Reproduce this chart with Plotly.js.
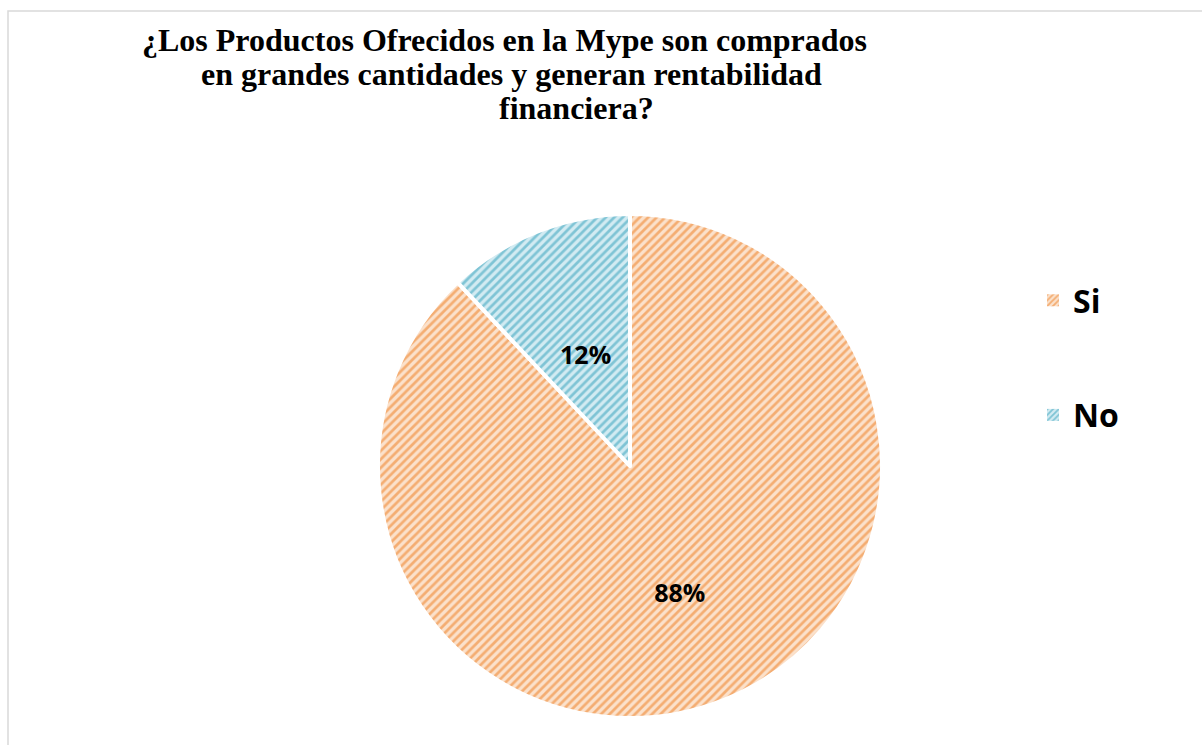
<!DOCTYPE html>
<html>
<head>
<meta charset="utf-8">
<script src="https://cdn.plot.ly/plotly-3.0.1.min.js"></script>
<style>html,body{margin:0;padding:0;background:#fff;}#chart{width:1202px;height:745px;}</style>
</head>
<body>
<div id="chart"></div>
<script>
const categories = ['Si', 'No'];
const values = [88, 12];
const titleLines = [
  '¿Los Productos Ofrecidos en la Mype son comprados',
  'en grandes cantidades y generan rentabilidad',
  'financiera?'
];
const bgColors = ['#fbe1cb', '#d2ebf2'];
const fgColors = ['#f4ad72', '#7fc4d5'];

const W = 1202, H = 745;
const px = x => x / W;
const py = y => 1 - y / H;

const cx = 630, cy = 466, r = 252;
const textRadii = [270, 165];
const pct = '%{percent:.0%}';

const traces = [{
  type: 'pie',
  labels: categories,
  values: values,
  sort: false,
  direction: 'clockwise',
  rotation: 0,
  showlegend: false,
  domain: {x: [px(cx - r), px(cx + r)], y: [py(cy + r), py(cy - r)]},
  textinfo: 'none',
  hoverinfo: 'none',
  marker: {
    colors: bgColors,
    line: {color: '#ffffff', width: 4},
    pattern: {shape: '/', fillmode: 'replace', bgcolor: bgColors, fgcolor: fgColors, size: 6, solidity: 0.45}
  }
}];

// transparent overlay pies that only carry the percentage labels
textRadii.forEach((rt, k) => {
  traces.push({
    type: 'pie',
    labels: categories,
    values: values,
    sort: false,
    direction: 'clockwise',
    rotation: 0,
    showlegend: false,
    domain: {x: [px(cx - rt), px(cx + rt)], y: [py(cy + rt), py(cy - rt)]},
    texttemplate: categories.map((c, i) => i === k ? pct : ''),
    textposition: 'inside',
    insidetextorientation: 'horizontal',
    textfont: {family: 'Open Sans', size: 25, color: '#000000', weight: 'bold'},
    hoverinfo: 'none',
    marker: {colors: ['rgba(0,0,0,0)', 'rgba(0,0,0,0)'], line: {width: 0}}
  });
});

categories.forEach((c, i) => {
  traces.push({
    type: 'bar',
    x: [c],
    y: [0],
    name: c,
    legendgroup: 'g' + i,
    showlegend: true,
    hoverinfo: 'none',
    marker: {
      color: bgColors[i],
      line: {width: 0},
      pattern: {shape: '/', fillmode: 'replace', bgcolor: bgColors[i], fgcolor: fgColors[i], size: 5, solidity: 0.45}
    }
  });
});

const titleCenters = [504, 511, 576];
const titleMids = [40, 74, 108];
const annotations = titleLines.map((t, i) => ({
  text: t,
  xref: 'paper', yref: 'paper',
  x: px(titleCenters[i]), y: py(titleMids[i]),
  xanchor: 'center', yanchor: 'middle',
  showarrow: false,
  font: {family: 'Liberation Serif', size: 32, color: '#000000', weight: 'bold'}
}));

const layout = {
  width: W, height: H,
  margin: {l: 0, r: 0, t: 0, b: 0},
  paper_bgcolor: '#ffffff',
  plot_bgcolor: 'rgba(0,0,0,0)',
  xaxis: {visible: false},
  yaxis: {visible: false},
  showlegend: true,
  legend: {
    x: px(1033), y: py(273), xanchor: 'left', yanchor: 'top',
    font: {family: 'Open Sans', size: 32, color: '#000000', weight: 'bold'},
    tracegroupgap: 70,
    bgcolor: 'rgba(0,0,0,0)'
  },
  annotations: annotations,
  shapes: [{
    type: 'rect', xref: 'paper', yref: 'paper',
    x0: px(8), x1: 1.02, y0: -0.02, y1: py(11),
    line: {color: '#d9d9d9', width: 1.5}
  }]
};

Plotly.newPlot('chart', traces, layout, {displayModeBar: false, staticPlot: true});
</script>
</body>
</html>
